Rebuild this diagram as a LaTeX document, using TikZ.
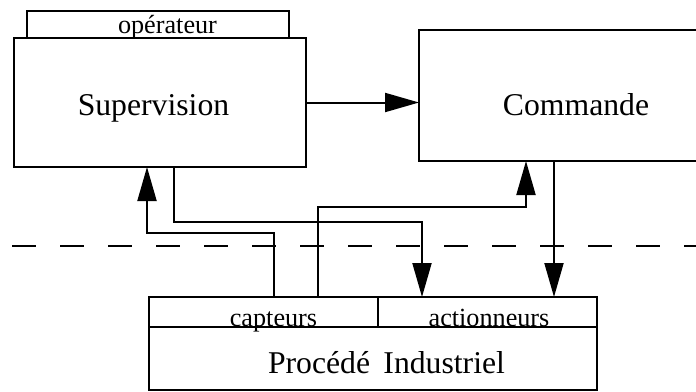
\documentclass[tikz,border=0pt]{standalone}
\usepackage{fontspec}
\setmainfont{Liberation Serif}
\usetikzlibrary{arrows.meta,calc}
\begin{document}
\begin{tikzpicture}[x=0.5pt,y=-0.5pt]
\tikzstyle{every node}+=[inner sep=0pt, outer sep=0pt]
\tikzstyle{bloc}=[draw=black, line width=1pt, rectangle, anchor=north west]
\tikzstyle{grand}=[font=\fontsize{15.85}{18}\selectfont, anchor=base]
\tikzstyle{petit}=[font=\fontsize{13.1}{15}\selectfont, anchor=base]
\tikzstyle{flux}=[draw=black, line width=1pt, -{Triangle[length=17pt,width=9.5pt]}]
\useasboundingbox (0,0) rectangle (696,391);
\clip (0,0) rectangle (696,391);
\node[bloc, minimum width=131pt, minimum height=13.5pt] (opr) at (27,11) {};
\node[bloc, minimum width=146pt, minimum height=64.5pt] (sup) at (14,38) {};
\node[bloc, minimum width=157pt, minimum height=65.5pt] (cmd) at (419,30) {};
\node[bloc, minimum width=114.5pt, minimum height=15pt] (capt) at (149,297) {};
\node[bloc, minimum width=109.5pt, minimum height=15pt] (act) at (378,297) {};
\node[bloc, minimum width=224pt, minimum height=31.25pt] (proc) at (149,327) {};
\node[petit] (oprt) at (167.5,33.5) {opérateur};
\node[grand] (supt) at (153.5,115) {Supervision};
\node[grand] (cmdt) at (576,115) {Commande};
\node[petit] (captt) at (273.5,326) {capteurs};
\node[petit] (actt) at (489,326) {actionneurs};
\node[grand] (proct) at (386.5,373) {Procédé\hspace{0.42em}Industriel};
\draw [black, line width=1pt, dash pattern=on 12pt off 12pt] (12,246) -- (696,246);
\draw[flux] (sup.east) -- (sup.east -| cmd.west);
\draw[flux] ($(capt.north west)+(125,0)$) -- ++(0,-64) -| ($(sup.south west)+(133,0)$);
\draw[flux] ($(sup.south west)+(160,0)$) -- ++(0,55) -| ($(act.north west)+(44,0)$);
\draw[flux] ($(capt.north west)+(169,0)$) -- ++(0,-90) -| ($(cmd.south west)+(107,0)$);
\draw[flux] ($(cmd.south west)+(135,0)$) -- ($(act.north west)+(176,0)$);
\end{tikzpicture}
\end{document}
